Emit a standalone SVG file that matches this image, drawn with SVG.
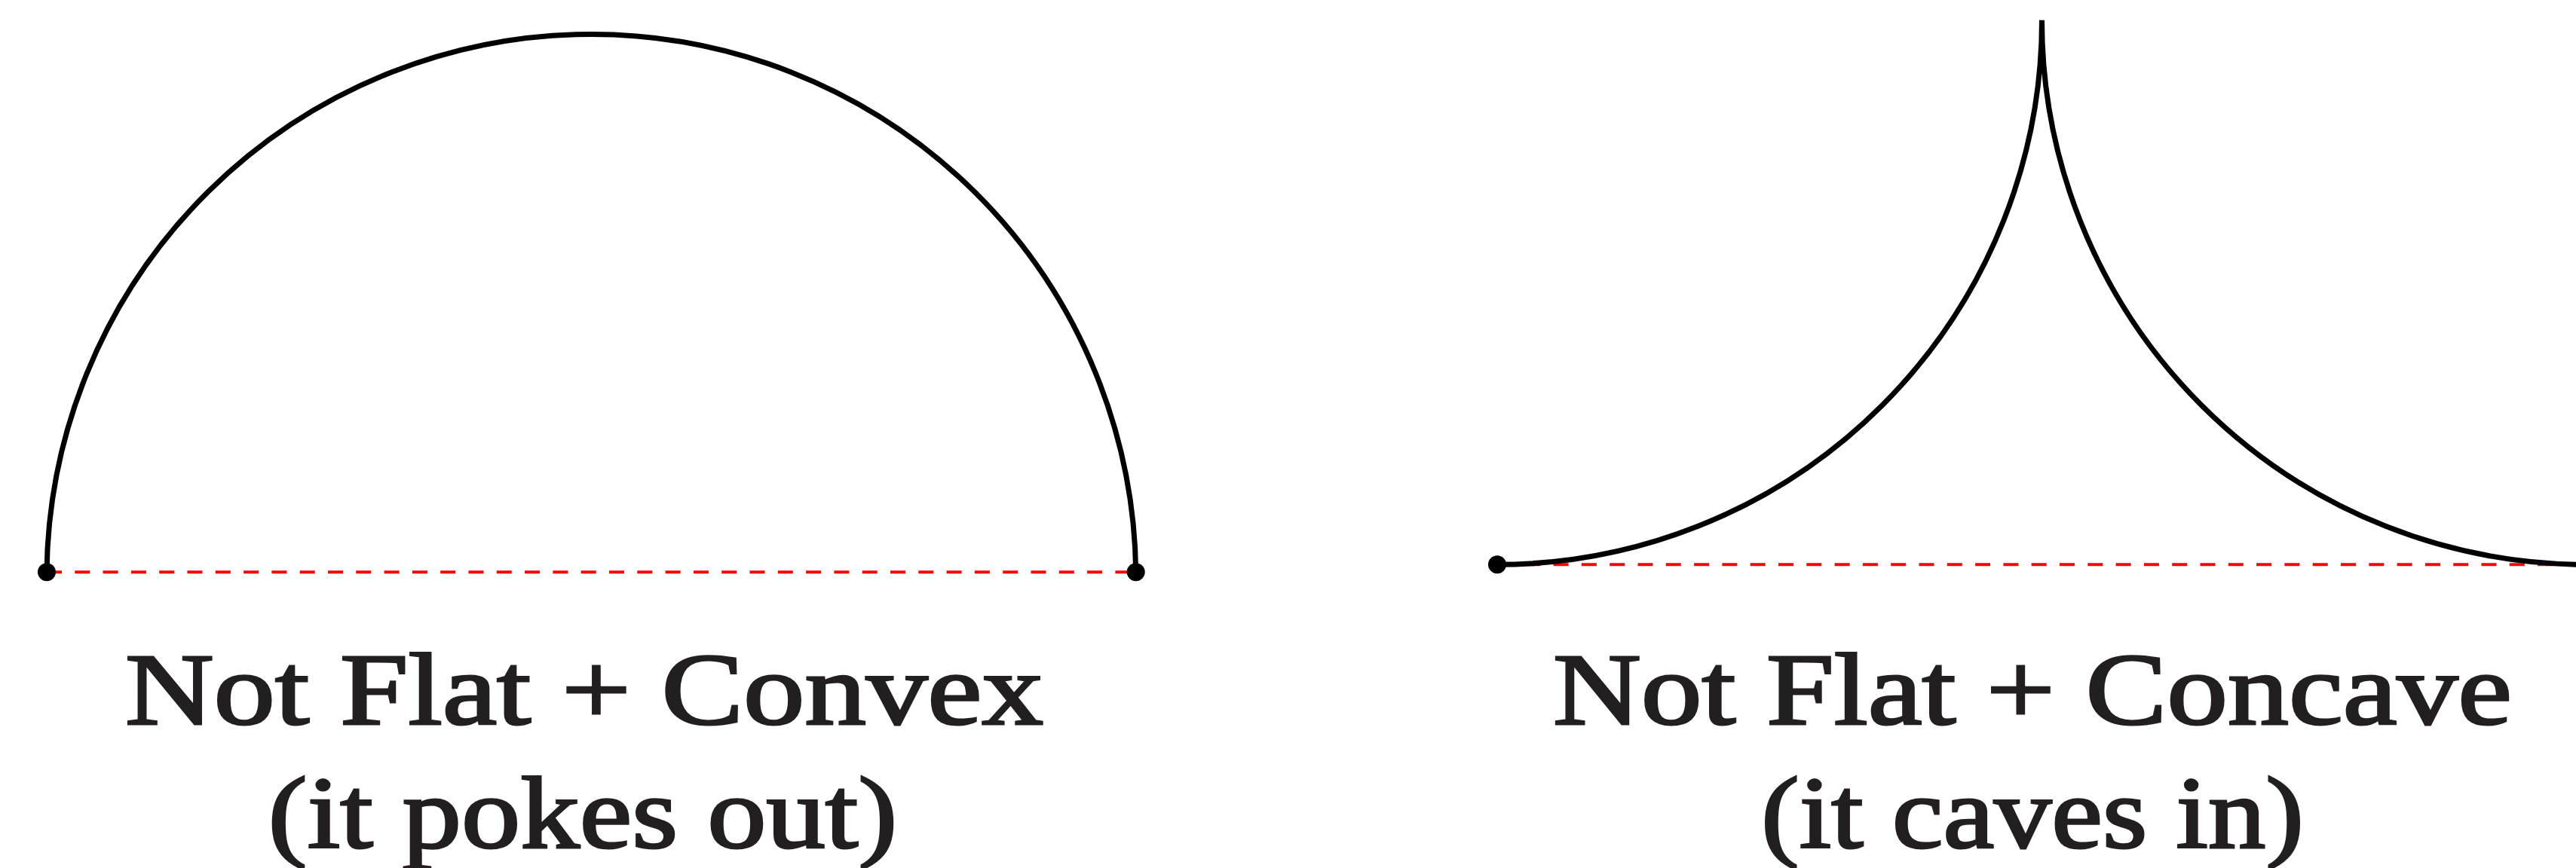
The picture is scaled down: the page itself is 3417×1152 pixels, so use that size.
<svg xmlns="http://www.w3.org/2000/svg" width="3417" height="1152" viewBox="0 0 3417 1152">
<style>
.curve{fill:none;stroke:#000;stroke-width:7;stroke-linecap:round}
.dash{fill:none;stroke:#ff0000;stroke-width:4;stroke-dasharray:20 17.3}
.dot{fill:#000}
.lbl{font-family:"Liberation Serif","Times New Roman",serif;font-weight:normal;font-size:136px;fill:#231f20;stroke:#231f20;stroke-width:3;text-anchor:middle}
</style>
<rect width="3417" height="1152" fill="#fff"/>
<g id="connectors">
<line class="dash" x1="62" y1="759.3" x2="1506.7" y2="759.3"/>
<line class="dash" x1="1986" y1="749.3" x2="3431" y2="749.3"/>
</g>
<g id="convex">
<path class="curve" d="M62,759.3 A722.4,722.4 0 0 1 1506.7,759.3"/>
<circle class="dot" cx="62" cy="759.3" r="12"/>
<circle class="dot" cx="1506.7" cy="759.3" r="12"/>
<text class="lbl" x="775" y="961" textLength="1218" lengthAdjust="spacingAndGlyphs">Not Flat + Convex</text>
<text class="lbl" x="773" y="1125" textLength="835" lengthAdjust="spacingAndGlyphs">(it pokes out)</text>
</g>
<g id="concave">
<path class="curve" d="M1986,749.3 A722.5,722.5 0 0 0 2708.5,26.8 A722.5,722.5 0 0 0 3431,749.3"/>
<circle class="dot" cx="1986" cy="749.3" r="12"/>
<circle class="dot" cx="3431" cy="749.3" r="12"/>
<text class="lbl" x="2696" y="961" textLength="1272" lengthAdjust="spacingAndGlyphs">Not Flat + Concave</text>
<text class="lbl" x="2696" y="1125" textLength="720" lengthAdjust="spacingAndGlyphs">(it caves in)</text>
</g>
</svg>
